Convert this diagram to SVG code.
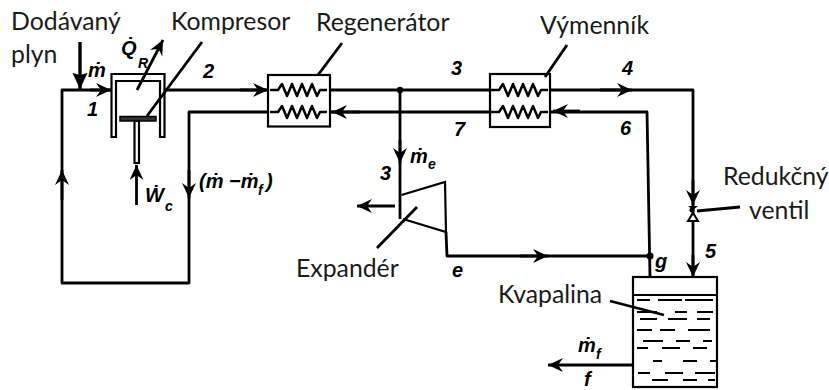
<svg xmlns="http://www.w3.org/2000/svg" width="829" height="390" viewBox="0 0 829 390">
<style>
.l{fill:none;stroke:#000;stroke-width:2.800;stroke-linejoin:round}
.r{fill:none;stroke:#000;stroke-width:2.200}
.t{fill:none;stroke:#000;stroke-width:1.800}
.a{fill:none;stroke:#000;stroke-width:2.800;marker-end:url(#h)}
.k{font:24.800px Lato,"Open Sans",sans-serif;fill:#1a1a1a}
.n{font:italic bold 20px "Liberation Sans",sans-serif;fill:#000}
.s{font:italic bold 14px "Liberation Sans",sans-serif;fill:#000}
</style>
<defs>
<marker id="h" markerUnits="userSpaceOnUse" markerWidth="18" markerHeight="16" refX="15" refY="7" orient="auto">
<path d="M0,0 L15,7 L0,14 L5,7 z" fill="#000"/>
</marker>
<marker id="b" markerUnits="userSpaceOnUse" markerWidth="18" markerHeight="18" refX="16" refY="7.500" orient="auto">
<path d="M0,0 L16,7.500 L0,15 L2,7.500 z" fill="#000"/>
</marker>
<path id="coil" d="M0,0 H8 L12,-6 L17,6 L22,-6 L27,6 L32,-6 L37,6 L42,-6 L47,6 L50,0 H57" fill="none" stroke="#000" stroke-width="2.500" stroke-linejoin="round"/>
</defs>
<g id="connectors">
<path class="l" d="M165,90 H268 M330,90 H490 M550,90 H693 V277"/>
<path class="l" d="M268,112 H189 V283 H62 V90 H111"/>
<path class="l" d="M330,112 H490 M550,112 H647 L650,277"/>
<path class="l" d="M400,90 V219"/>
<path class="l" d="M446,232 L447,256 H650"/>
<path class="a" d="M62,200 V170"/>
<path class="a" d="M90,90 H111"/>
<path class="a" d="M240,90 H268"/>
<path class="a" d="M189,170 V198"/>
<path class="a" d="M360,112 H332"/>
<path class="a" d="M600,90 H632"/>
<path class="a" d="M580,111 H553"/>
<path class="a" d="M400,140 V163"/>
<path class="a" d="M520,256 H548"/>
<path class="a" d="M693,180 V205"/>
<path class="a" d="M693,255 V277"/>
<path d="M80,42 V89" fill="none" stroke="#000" stroke-width="3.400" marker-end="url(#b)"/>
<path class="a" d="M137,90 L163,40"/>
<path class="a" d="M136.500,205 V165"/>
<path class="a" d="M395,206 H357"/>
<path class="a" d="M633,365 H548"/>
</g>
<g id="compressor">
<path class="r" d="M111.500,137 V74 H164.500 V137 H160 V81 H116 V137 Z"/>
<rect x="120" y="116.500" width="36" height="4.500" fill="#333" stroke="#000" stroke-width="1.500"/>
<rect class="r" x="134.500" y="121" width="4.500" height="42"/>
<text class="k" x="171" y="30">Kompresor</text>
<path class="l" d="M202,42 L147,116"/>
</g>
<g id="feed">
<text class="k" x="11" y="30">Dodávaný</text>
<text class="k" x="11" y="63">plyn</text>
</g>
<g id="regenerator">
<rect class="r" x="268" y="75" width="62" height="51.500"/>
<use href="#coil" x="270" y="90"/>
<use href="#coil" x="270" y="112"/>
<path class="l" d="M342,43 L318,75"/>
<text class="k" x="316" y="31">Regenerátor</text>
</g>
<g id="exchanger">
<rect class="r" x="490" y="74" width="60" height="53"/>
<use href="#coil" x="491" y="90"/>
<use href="#coil" x="491" y="112"/>
<path class="l" d="M567,45 L545,77"/>
<text class="k" x="540" y="34">Výmenník</text>
</g>
<g id="expander">
<path class="r" d="M401.500,195 L445,182 L446,232 L403,219"/>
<path class="l" d="M417,207 L377,248"/>
<text class="k" x="296" y="277">Expandér</text>
</g>
<g id="valve">
<path d="M688,206 L698,206 L693,210 Z" fill="#000"/>
<path d="M688,221 L698,221 L693,213 Z" fill="#fff" stroke="#000" stroke-width="2"/>
<circle cx="692" cy="210" r="2.500" fill="#000"/>
<path class="l" d="M697,211 L740,207"/>
<text class="k" x="723" y="185">Redukčný</text>
<text class="k" x="749" y="219">ventil</text>
</g>
<g id="tank">
<rect class="r" x="633" y="277" width="84" height="110"/>
<path class="t" d="M633,295 H717"/>
<path class="t" d="M637,300 H650 M658,300 H682 M685,300 H713 M637,312 H657 M675,312 H687 M697,312 H713 M640,319 H657 M668,319 H687 M697,319 H710 M637,330 H652 M660,330 H675 M688,330 H710 M643,341 H663 M676,341 H690 M703,341 H712 M637,348 H648 M662,348 H680 M693,348 H707 M653,361 H662 M683,361 H697 M710,361 H718 M638,373 H650 M665,373 H683 M695,373 H715 M652,380 H668 M683,380 H697 M708,380 H715"/>
<path class="l" d="M610,301 L664,315"/>
<text class="k" x="498" y="303">Kvapalina</text>
</g>
<g id="junctions">
<circle cx="400" cy="90" r="3.200"/>
<circle cx="650" cy="256" r="3.500"/>
</g>
<g id="labels">
<text class="n" x="87" y="116">1</text>
<text class="n" x="203" y="78">2</text>
<text class="n" x="451" y="75">3</text>
<text class="n" x="454" y="136">7</text>
<text class="n" x="622" y="75">4</text>
<text class="n" x="620" y="135">6</text>
<text class="n" x="380" y="180">3</text>
<text class="n" x="452" y="277">e</text>
<text class="n" x="655" y="268">g</text>
<text class="n" x="705" y="258">5</text>
<text class="n" x="88" y="77">ṁ</text>
<text class="n" x="410" y="163">ṁ</text><text class="s" x="428" y="169">e</text>
<text class="n" x="578" y="352">ṁ</text><text class="s" x="596" y="359">f</text>
<text class="n" x="584" y="386">f</text>
<text class="n" x="121" y="55">Q̇</text><text class="s" x="138" y="68">R</text>
<text class="n" x="145" y="202">Ẇ</text><text class="s" x="165" y="211">c</text>
<text class="n" x="199" y="188">(ṁ −ṁ</text><text class="s" x="258" y="195">f</text><text class="n" x="266" y="188">)</text>
</g>
</svg>
